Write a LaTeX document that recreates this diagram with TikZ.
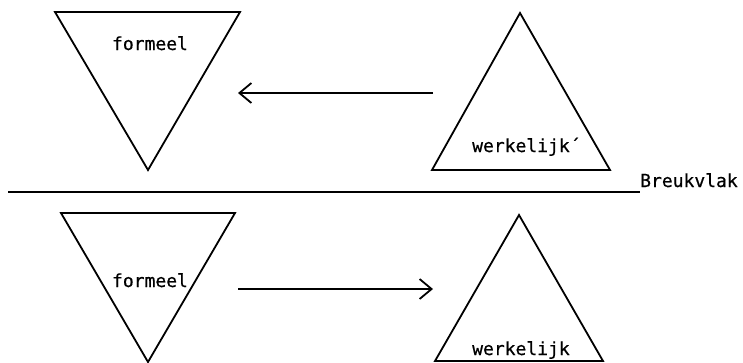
\documentclass[tikz,border=0pt]{standalone}
\usepackage{fontspec}
\newfontfamily\labelfont{DejaVu Sans Mono}[FakeBold=0.6]
\usetikzlibrary{arrows.meta}
\begin{document}
\begin{tikzpicture}[x=1pt,y=-1pt,
  lbl/.style={font=\labelfont\fontsize{18}{20}\selectfont, inner sep=0pt},
  tri/.style={draw, line width=1.8pt, line join=miter},
  rule/.style={draw, line width=1.8pt},
  flow/.style={draw, line width=1.8pt, -{Straight Barb[length=12pt,width=20pt,line width=1.8pt]}}]
\useasboundingbox (0,0) rectangle (743,362);

% upper half: formal (inverted) and real triangle
\draw[tri] (55,12) coordinate (fa1) -- (240,12) coordinate (fb1) -- (148,170) coordinate (fc1) -- cycle;
\node[lbl, anchor=base] (formeel1) at (150,50) {formeel};
\draw[tri] (520,13) coordinate (wa1) -- (610,170) coordinate (wb1) -- (432,170) coordinate (wc1) -- cycle;
\node[lbl, anchor=base west] (werkelijk1) at (472,152) {werkelijk´};
\coordinate (u1) at (433,93);
\coordinate (u2) at (238,93);
\draw[flow] (u1) -- (u2);

% fracture plane
\coordinate (r1) at (8,192);
\coordinate (r2) at (640,192);
\draw[rule] (r1) -- (r2);
\node[lbl, anchor=base west] (breuk) at (640,187) {Breukvlak};

% lower half
\draw[tri] (61,213) coordinate (fa2) -- (235,213) coordinate (fb2) -- (148,362) coordinate (fc2) -- cycle;
\node[lbl, anchor=base] (formeel2) at (150,287) {formeel};
\draw[tri] (519,215) coordinate (wa2) -- (603,361) coordinate (wb2) -- (435,361) coordinate (wc2) -- cycle;
\node[lbl, anchor=base west] (werkelijk2) at (472,355) {werkelijk};
\coordinate (d1) at (238,289);
\coordinate (d2) at (433,289);
\draw[flow] (d1) -- (d2);
\end{tikzpicture}
\end{document}
